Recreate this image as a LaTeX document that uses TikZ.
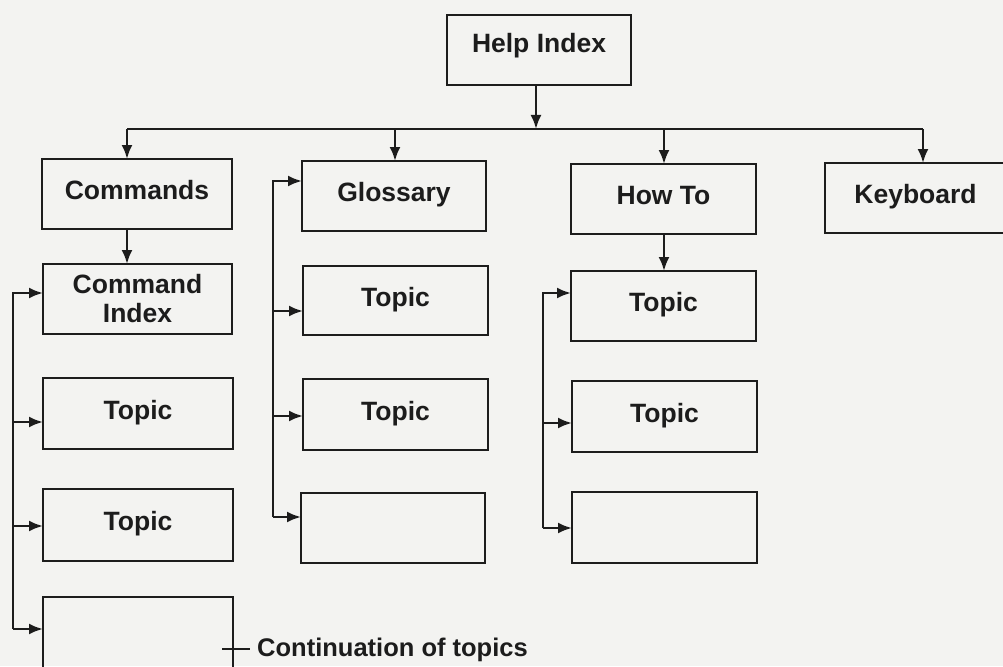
\documentclass[tikz,border=0pt]{standalone}
\usepackage{fontspec}
\setmainfont{Liberation Sans}
\usetikzlibrary{arrows.meta}
\definecolor{paper}{RGB}{243,243,241}
\definecolor{ink}{RGB}{28,28,28}
\begin{document}
\begin{tikzpicture}[x=1pt,y=-1pt,
  box/.style={draw=ink, line width=2.6pt, inner sep=0pt, outer sep=0pt,
    font=\bfseries\fontsize{26.5}{29}\selectfont, text=ink},
  lbl/.style={text height=19pt, text depth=8pt},
  wire/.style={draw=ink, line width=2.4pt},
  arr/.style={wire, -{Latex[length=14pt,width=11pt]}}]
\fill[paper] (0,0) rectangle (1003,666);
\useasboundingbox (0,0) rectangle (1003,666);
\begin{scope}
\clip (0,0) rectangle (1003,666);

% top level
\node[box, lbl, text depth=14pt, minimum width=184pt, minimum height=70pt] (help) at (539,50) {Help Index};

% second level
\node[box, lbl, minimum width=190pt, minimum height=70pt] (cmd)   at (137,194)   {Commands};
\node[box, lbl, minimum width=184pt, minimum height=70pt] (glos)  at (394,196)   {Glossary};
\node[box, lbl, minimum width=185pt, minimum height=70pt] (howto) at (663.5,199) {How To};
\node[box, lbl, minimum width=181pt, minimum height=70pt] (kbd)   at (915.5,198) {Keyboard};

% Commands column
\node[box, align=center, minimum width=189pt, minimum height=70pt] (cidx) at (137.5,299) {Command\\Index};
\node[box, lbl, minimum width=190pt, minimum height=71pt] (ct1) at (138,413.5) {Topic};
\node[box, lbl, minimum width=190pt, minimum height=72pt] (ct2) at (138,525)   {Topic};
\node[box, minimum width=190pt, minimum height=71pt]      (ct3) at (138,632.5) {};

% Glossary column
\node[box, lbl, minimum width=185pt, minimum height=69pt] (gt1) at (395.5,300.5) {Topic};
\node[box, lbl, minimum width=185pt, minimum height=71pt] (gt2) at (395.5,414.5) {Topic};
\node[box, minimum width=184pt, minimum height=70pt]      (gt3) at (393,528)     {};

% How To column
\node[box, lbl, minimum width=185pt, minimum height=70pt] (ht1) at (663.5,306)   {Topic};
\node[box, lbl, minimum width=185pt, minimum height=71pt] (ht2) at (664.5,416.5) {Topic};
\node[box, minimum width=185pt, minimum height=71pt]      (ht3) at (664.5,527.5) {};

% distribution bus
\coordinate (bh)   at (536,129);
\coordinate (busL) at (127,129);
\coordinate (bg)   at (395,129);
\coordinate (bw)   at (664,129);
\coordinate (busR) at (923,129);
\draw[arr] (bh |- help.south) -- (bh);
\draw[wire] (busL) -- (busR);
\draw[arr] (busL) -- (busL |- cmd.north);
\draw[arr] (bg) -- (bg |- glos.north);
\draw[arr] (bw) -- (bw |- howto.north);
\draw[arr] (busR) -- (busR |- kbd.north);
\draw[arr] (busL |- cmd.south) -- (busL |- cidx.north);
\draw[arr] (bw |- howto.south) -- (bw |- ht1.north);

% Commands bracket
\coordinate (c1) at (13,293);
\coordinate (c2) at (13,422);
\coordinate (c3) at (13,526);
\coordinate (c4) at (13,629);
\draw[arr] (c4) -- (c1) -- (c1 -| cidx.west);
\draw[arr] (c2) -- (c2 -| ct1.west);
\draw[arr] (c3) -- (c3 -| ct2.west);
\draw[arr] (c4) -- (c4 -| ct3.west);

% Glossary bracket
\coordinate (g1) at (273,181);
\coordinate (g2) at (273,311);
\coordinate (g3) at (273,416);
\coordinate (g4) at (273,517);
\draw[arr] (g4) -- (g1) -- (g1 -| glos.west);
\draw[arr] (g2) -- (g2 -| gt1.west);
\draw[arr] (g3) -- (g3 -| gt2.west);
\draw[arr] (g4) -- (g4 -| gt3.west);

% How To bracket
\coordinate (h1) at (543,293);
\coordinate (h2) at (543,423);
\coordinate (h3) at (543,528);
\draw[arr] (h3) -- (h1) -- (h1 -| ht1.west);
\draw[arr] (h2) -- (h2 -| ht2.west);
\draw[arr] (h3) -- (h3 -| ht3.west);

% continuation note
\coordinate (tick) at (222,649);
\node[anchor=west, inner xsep=7pt, inner ysep=0pt, text height=19pt, text depth=0pt,
  font=\bfseries\fontsize{25.5}{28}\selectfont, text=ink] (cont) at (250,647) {Continuation of topics};
\draw[wire] (tick) -- (tick -| cont.west);
\end{scope}
\end{tikzpicture}
\end{document}
